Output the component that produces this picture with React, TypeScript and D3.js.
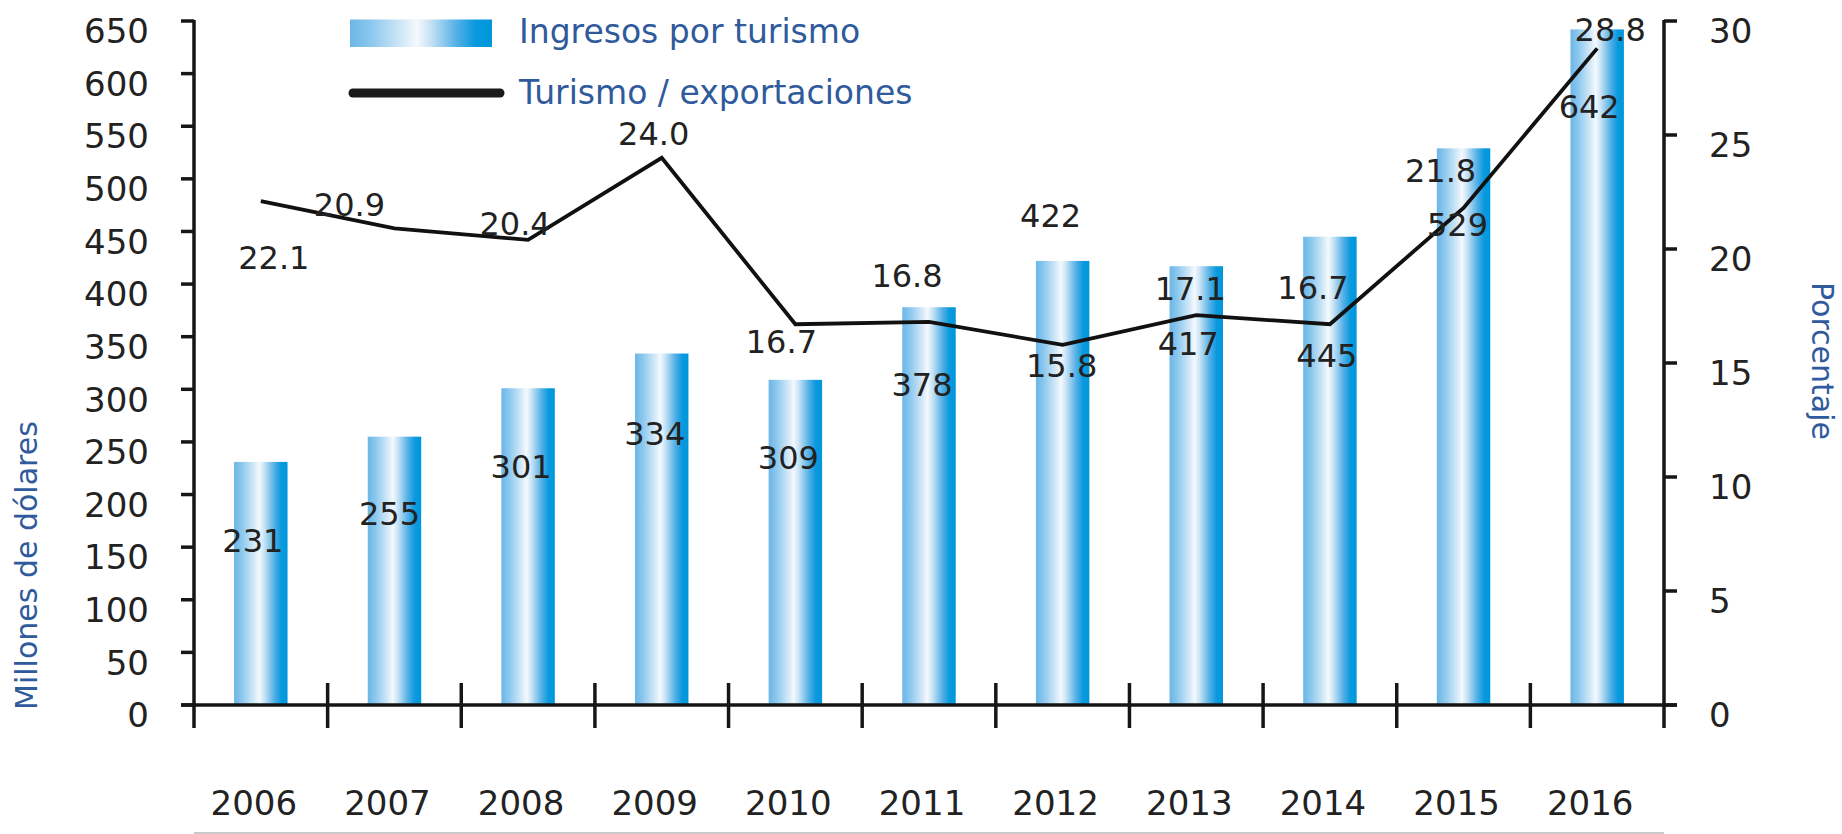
import React from 'react';
import * as d3 from 'd3';

const years = ['2006', '2007', '2008', '2009', '2010', '2011', '2012', '2013', '2014', '2015', '2016'];
const ingresos = [231, 255, 301, 334, 309, 378, 422, 417, 445, 529, 642];
const porcentaje = [22.1, 20.9, 20.4, 24.0, 16.7, 16.8, 15.8, 17.1, 16.7, 21.8, 28.8];
const leftTicks = [0, 50, 100, 150, 200, 250, 300, 350, 400, 450, 500, 550, 600, 650];
const rightTicks = [0, 5, 10, 15, 20, 25, 30];
const legendLabels = ['Ingresos por turismo', 'Turismo / exportaciones'];
const axisTitles = ['Millones de dólares', 'Porcentaje'];

// label nudges (layout, px)
const barLabelDx = [-8, -5, -7, -7, -7, -7, -12, -8, -3, -6, -8];
const barLabelDy = [79, 77, 78, 80, 78, 77, -45, 77, 119, 76, 77];
const lineLabelDx = [13, -45, -13, -8, -14, -22, -1, -6, -17, -23, 13];
const lineLabelDy = [56, -24, -16, -24, 17, -46, 21, -27, -37, -37, -19];

const W = 1842;
const H = 834;
const X0 = 194;
const X1 = 1664;
const Y0 = 705;
const YT = 21;
const FONT = '"DejaVu Sans", Verdana, sans-serif';
const TXT = '#222';
const BLUE = '#2f5a9c';
const TICK_FS = 34;
const VAL_FS = 32;

export default function App() {
  const x = d3.scaleBand<string>().domain(years).range([X0, X1]).paddingInner(0.6).paddingOuter(0.3);
  const step = x.step();
  const yL = d3.scaleLinear().domain([0, 650]).range([Y0, YT]);
  const yR = d3.scaleLinear().domain([0, 30]).range([Y0, YT]);
  const cx = (i: number) => (x(years[i]) as number) + x.bandwidth() / 2;
  const line = d3
    .line<number>()
    .x((_, i) => cx(i))
    .y((d) => yR(d));
  const boundaries = d3.range(1, years.length).map((i) => X0 + step * i);

  return (
    <svg width={W} height={H} style={{ position: 'absolute', left: 0, top: 0, display: 'block' }} fontFamily={FONT}>
      <defs>
        <linearGradient id="barGrad" x1="0" x2="1" y1="0" y2="0">
          <stop offset="0%" stopColor="#6cb6e6" />
          <stop offset="15%" stopColor="#8cc8ee" />
          <stop offset="38%" stopColor="#d6eaf8" />
          <stop offset="47%" stopColor="#f4f9fd" />
          <stop offset="56%" stopColor="#cbe4f6" />
          <stop offset="75%" stopColor="#55b0e6" />
          <stop offset="88%" stopColor="#0a9ade" />
          <stop offset="100%" stopColor="#0096da" />
        </linearGradient>
      </defs>
      <rect x={0} y={0} width={W} height={H} fill="#fff" />

      {/* bars */}
      {ingresos.map((v, i) => (
        <rect key={'b' + i} x={x(years[i])} y={yL(v)} width={x.bandwidth()} height={Y0 - yL(v)} fill="url(#barGrad)" />
      ))}

      {/* axes */}
      <g stroke="#161616" strokeWidth={3.5} fill="none">
        <line x1={X0} y1={YT - 1} x2={X0} y2={Y0 + 23} />
        <line x1={X1} y1={YT - 1} x2={X1} y2={Y0 + 23} />
        <line x1={X0 - 13} y1={Y0} x2={X1 + 13} y2={Y0} />
        {leftTicks.map((t) => (
          <line key={'lt' + t} x1={X0 - 13} x2={X0} y1={yL(t)} y2={yL(t)} />
        ))}
        {rightTicks.map((t) => (
          <line key={'rt' + t} x1={X1} x2={X1 + 13} y1={yR(t)} y2={yR(t)} />
        ))}
        {boundaries.map((b, i) => (
          <line key={'xt' + i} x1={b} x2={b} y1={Y0 - 22} y2={Y0 + 23} />
        ))}
      </g>
      <line x1={X0} x2={X1} y1={833} y2={833} stroke="#c8c8c8" strokeWidth={2} />

      {/* tick labels */}
      <g fontSize={TICK_FS} fill={TXT}>
        {leftTicks.map((t) => (
          <text key={'ll' + t} x={149} y={yL(t) + 10} dy="0.36em" textAnchor="end">
            {t}
          </text>
        ))}
        {rightTicks.map((t) => (
          <text key={'rl' + t} x={1709} y={yR(t) + 10} dy="0.36em" textAnchor="start">
            {t}
          </text>
        ))}
        {years.map((yy, i) => (
          <text key={'yl' + yy} x={cx(i) - 7} y={803} dy="0.36em" textAnchor="middle">
            {yy}
          </text>
        ))}
      </g>

      {/* line */}
      <path d={line(porcentaje) || ''} fill="none" stroke="#111" strokeWidth={3.8} strokeLinejoin="miter" />

      {/* value labels */}
      <g fontSize={VAL_FS} fill={TXT} textAnchor="middle">
        {ingresos.map((v, i) => (
          <text key={'bl' + i} x={cx(i) + barLabelDx[i]} y={yL(v) + barLabelDy[i]} dy="0.36em">
            {v}
          </text>
        ))}
        {porcentaje.map((v, i) => (
          <text key={'pl' + i} x={cx(i) + lineLabelDx[i]} y={yR(v) + lineLabelDy[i]} dy="0.36em">
            {v.toFixed(1)}
          </text>
        ))}
      </g>

      {/* legend */}
      <rect x={350} y={19.5} width={142} height={27.5} fill="url(#barGrad)" />
      <line x1={353} x2={500} y1={93} y2={93} stroke="#1a1a1a" strokeWidth={9} strokeLinecap="round" />
      <g fontSize={33} fill={BLUE}>
        <text x={519} y={43}>{legendLabels[0]}</text>
        <text x={519} y={104}>{legendLabels[1]}</text>
      </g>

      {/* axis titles */}
      <text transform={`translate(37, 710) rotate(-90)`} fontSize={30} fill={BLUE} textAnchor="start">
        {axisTitles[0]}
      </text>
      <text transform={`translate(1812, 282) rotate(90)`} fontSize={30} fill={BLUE} textAnchor="start">
        {axisTitles[1]}
      </text>
    </svg>
  );
}
